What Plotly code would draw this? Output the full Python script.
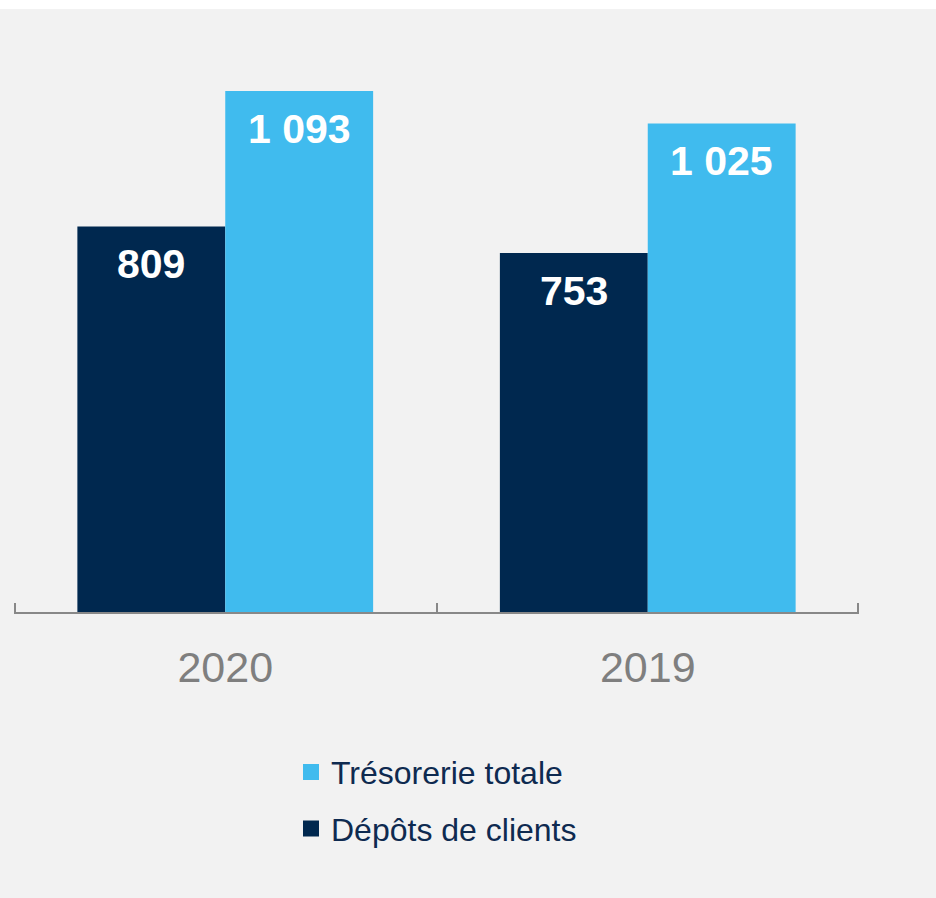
import plotly.graph_objects as go

categories = ["2020", "2019"]
depots_clients = [809, 753]
tresorerie_totale = [1093, 1025]
series_names = ["Dépôts de clients", "Trésorerie totale"]

DARK = "#00284f"
LIGHT = "#40bbee"
NAVY_TEXT = "#0e2a50"
GRAY = "#888888"
BG = "#f2f2f2"

def fmt(v):
    return f"{v:,}".replace(",", " ")

fig = go.Figure()
fig.add_trace(go.Bar(x=categories, y=depots_clients, name=series_names[0],
                     marker=dict(color=DARK, line=dict(width=0)), showlegend=False))
fig.add_trace(go.Bar(x=categories, y=tresorerie_totale, name=series_names[1],
                     marker=dict(color=LIGHT, line=dict(width=0)), showlegend=False))

# legend proxies (square markers)
fig.add_trace(go.Scatter(x=[None], y=[None], mode="markers", name=series_names[1],
                         marker=dict(symbol="square", size=16, color=LIGHT),
                         legendgroup="b"))
fig.add_trace(go.Scatter(x=[None], y=[None], mode="markers", name=series_names[0],
                         marker=dict(symbol="square", size=16, color=DARK),
                         legendgroup="a"))

# category boundary ticks (drawn on an overlaid linear axis)
n = len(categories)
boundaries = [i - 0.5 for i in range(n + 1)]
fig.add_trace(go.Scatter(x=boundaries, y=[0] * len(boundaries), xaxis="x2",
                         mode="markers", marker=dict(opacity=0, size=1),
                         showlegend=False, hoverinfo="skip"))

bargap = 0.3
half = (1 - bargap) / 4
annotations = []
for i, (d, t) in enumerate(zip(depots_clients, tresorerie_totale)):
    for off, v in ((-half, d), (half, t)):
        annotations.append(dict(x=i + off, y=v, xref="x", yref="y", text=fmt(v),
                                showarrow=False, yanchor="top", yshift=-13,
                                font=dict(family="Liberation Sans, Arial, sans-serif",
                                          size=41, color="white", weight="bold")))

fig.update_layout(
    width=936, height=898,
    margin=dict(l=14, r=77, t=40, b=286),
    paper_bgcolor=BG, plot_bgcolor=BG,
    bargap=bargap, bargroupgap=0, barmode="group",
    annotations=annotations,
    shapes=[dict(type="rect", xref="paper", yref="paper", x0=-0.1, x1=1.2,
                 y0=1 + 31 / 572, y1=1.2, fillcolor="white", line=dict(width=0),
                 layer="above")],
    xaxis=dict(type="category", range=[-0.5, n - 0.5], showline=True, linecolor=GRAY,
               linewidth=2, ticks="", showgrid=False, zeroline=False,
               ticklabelstandoff=16,
               tickfont=dict(family="Liberation Sans, Arial, sans-serif",
                             size=43, color="#7f7f7f")),
    xaxis2=dict(type="linear", overlaying="x", side="bottom", anchor="y",
                range=[-0.503, n - 0.497], tickmode="array", tickvals=boundaries,
                ticks="inside", ticklen=9, tickwidth=2, tickcolor=GRAY,
                showticklabels=False, showgrid=False, zeroline=False, showline=False),
    yaxis=dict(range=[0, 1200], visible=False, showgrid=False, zeroline=False),
    legend=dict(x=0.5, xanchor="center", y=-0.232, yanchor="top",
                orientation="v", traceorder="grouped", tracegroupgap=12,
                bgcolor="rgba(0,0,0,0)",
                font=dict(family="Liberation Sans, Arial, sans-serif", size=32,
                          color=NAVY_TEXT)),
    showlegend=True,
)

fig.write_html("out.html", config={"displayModeBar": False},
               post_script="document.body.style.margin='0';document.body.style.overflow='hidden';")
